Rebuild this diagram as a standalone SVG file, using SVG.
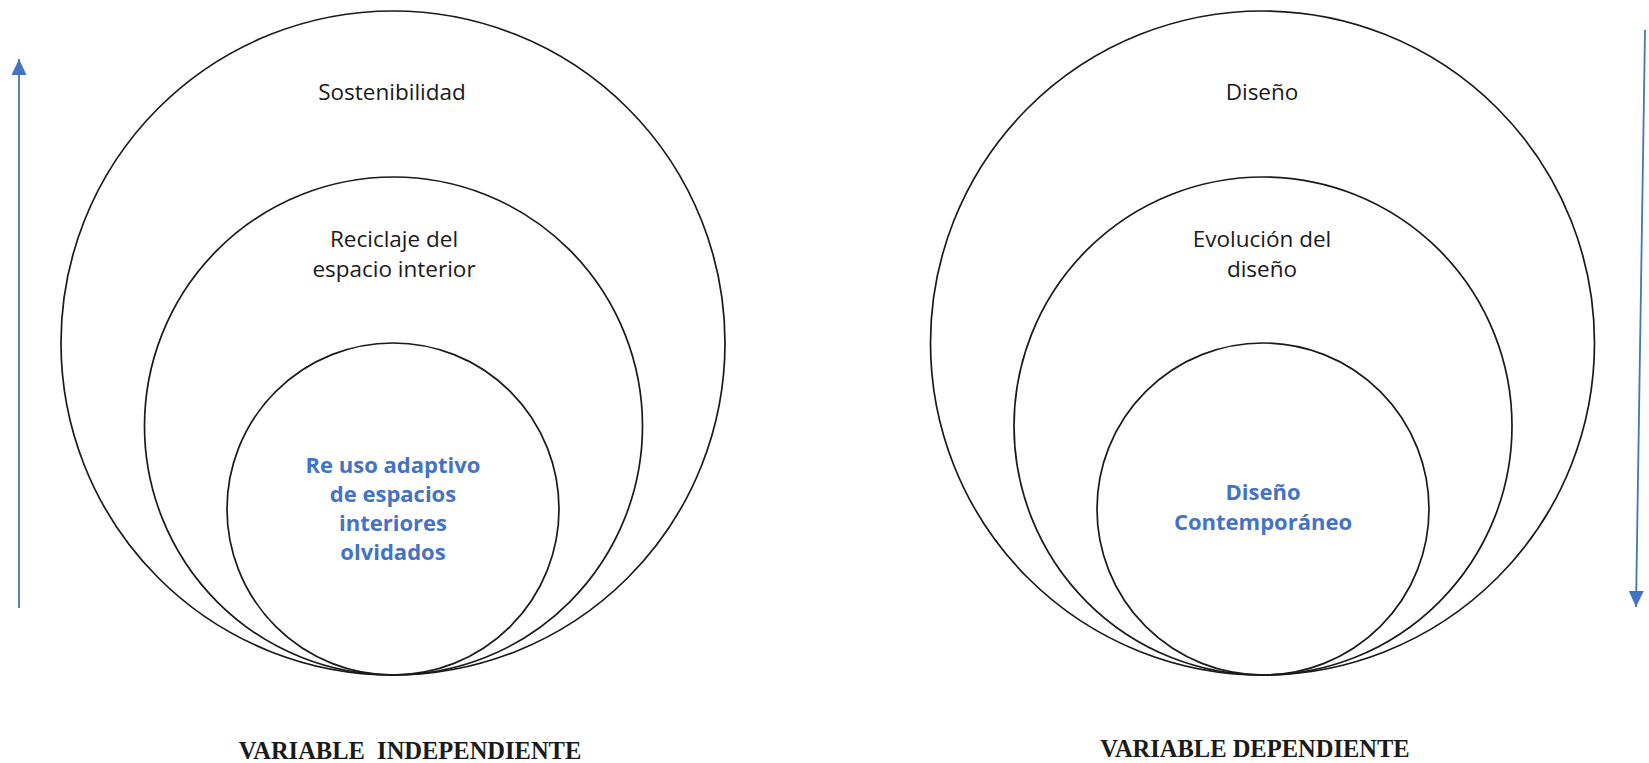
<svg xmlns="http://www.w3.org/2000/svg" width="1649" height="763" viewBox="0 0 1649 763">
<style>
.ring{fill:none;stroke:#1a1a1a;stroke-width:1.7}
.lbl{font-family:"Open Sans","Noto Sans","Liberation Sans",sans-serif;font-size:22.5px;fill:#1a1a1a;text-anchor:middle}
.key{font-family:"Open Sans","Noto Sans","Liberation Sans",sans-serif;font-size:22px;font-weight:bold;fill:#4472C4;text-anchor:middle}
.var{font-family:"Liberation Serif","Times New Roman",serif;font-size:24.5px;font-weight:bold;fill:#1a1a1a;text-anchor:middle}
.arr{stroke:#4472C4;stroke-width:1.8;fill:none}
</style>
<defs>
<marker id="head" markerUnits="userSpaceOnUse" markerWidth="16" markerHeight="16" refX="16" refY="7.5" orient="auto">
<path d="M0,0 L16,7.5 L0,15 z" fill="#4472C4"/>
</marker>
</defs>
<rect width="1649" height="763" fill="#fff"/>
<g id="connectors">
<line class="arr" x1="19" y1="608" x2="19" y2="59" marker-end="url(#head)"/>
<line class="arr" x1="1645" y1="30" x2="1636" y2="607" marker-end="url(#head)"/>
</g>
<g id="sostenibilidad">
<circle class="ring" cx="393" cy="343" r="332"/>
<text class="lbl" x="392" y="100">Sostenibilidad</text>
</g>
<g id="reciclaje">
<circle class="ring" cx="393.5" cy="426" r="249"/>
<text class="lbl" x="394" y="247">Reciclaje del</text>
<text class="lbl" x="394" y="277">espacio interior</text>
</g>
<g id="reuso">
<circle class="ring" cx="393" cy="509" r="166"/>
<text class="key" x="393" y="473">Re uso adaptivo</text>
<text class="key" x="393" y="502">de espacios</text>
<text class="key" x="393" y="531">interiores</text>
<text class="key" x="393" y="560">olvidados</text>
</g>
<g id="diseno">
<circle class="ring" cx="1262.5" cy="343" r="332"/>
<text class="lbl" x="1262" y="100">Diseño</text>
</g>
<g id="evolucion">
<circle class="ring" cx="1263" cy="426" r="249"/>
<text class="lbl" x="1262" y="247">Evolución del</text>
<text class="lbl" x="1262" y="277">diseño</text>
</g>
<g id="contemporaneo">
<circle class="ring" cx="1263" cy="509" r="166"/>
<text class="key" x="1263" y="500">Diseño</text>
<text class="key" x="1263" y="530">Contemporáneo</text>
</g>
<text class="var" x="410" y="759">VARIABLE&#160; INDEPENDIENTE</text>
<text class="var" x="1255" y="757">VARIABLE DEPENDIENTE</text>
</svg>
